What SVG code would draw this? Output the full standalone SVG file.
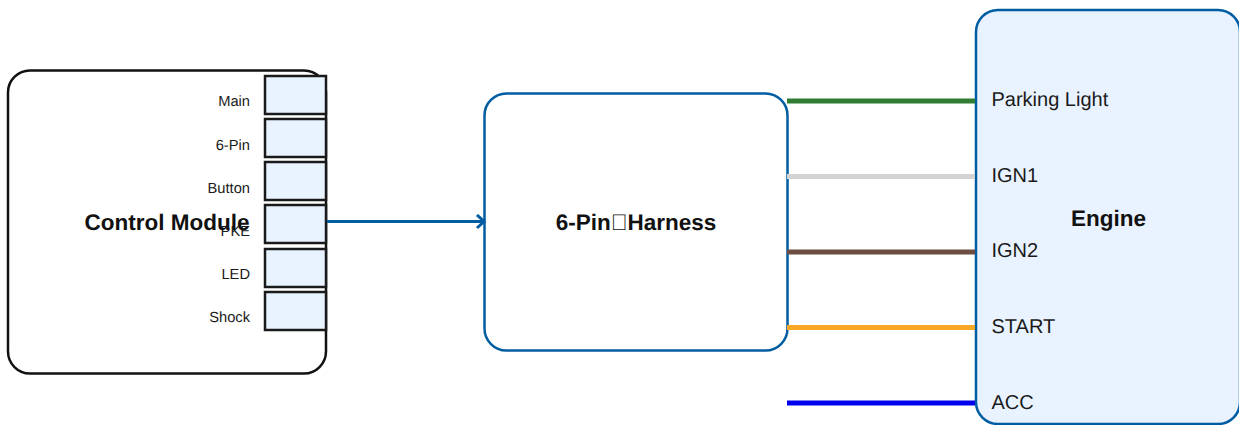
<svg xmlns="http://www.w3.org/2000/svg" width="1239" height="425" viewBox="0 0 1239 425">
<style>
text{font-family:"Liberation Sans",Arial,sans-serif;fill:#1a1a1a;text-rendering:geometricPrecision}
.box{stroke:#005da2;stroke-width:2.500}
.port{fill:#e9f3ff;stroke:#1a1a1a;stroke-width:2.500}
.pl{font-size:14.700px;text-anchor:end}
.t{font-size:22.500px;font-weight:bold;text-anchor:middle;fill:#111}
.el{font-size:20px}
.w{fill:none;stroke-width:5}
</style>
<defs>
<marker id="a" markerUnits="userSpaceOnUse" markerWidth="14" markerHeight="16" refX="12" refY="8" orient="auto"><path d="M5 1.500L12 8L5 14.500" fill="none" stroke="#005da2" stroke-width="3"/></marker>
</defs>
<g id="control-module">
<rect x="8" y="70.500" width="318" height="303" rx="22" fill="#fff" stroke="#111" stroke-width="2.500"/>
<text class="t" x="167" y="229.500">Control Module</text>
</g>
<g id="port-main"><rect class="port" x="265" y="76" width="61" height="38"/><text class="pl" x="250" y="106">Main</text></g>
<g id="port-6pin"><rect class="port" x="265" y="119" width="61" height="38"/><text class="pl" x="250" y="150">6-Pin</text></g>
<g id="port-button"><rect class="port" x="265" y="162" width="61" height="38"/><text class="pl" x="250" y="193">Button</text></g>
<g id="port-pke"><rect class="port" x="265" y="205" width="61" height="38"/><text class="pl" x="250" y="236">PKE</text></g>
<g id="port-led"><rect class="port" x="265" y="249" width="61" height="38"/><text class="pl" x="250" y="279">LED</text></g>
<g id="port-shock"><rect class="port" x="265" y="292" width="61" height="38"/><text class="pl" x="250" y="322">Shock</text></g>
<g id="harness">
<rect class="box" x="484.500" y="93.500" width="303" height="257" rx="22" fill="#fff"/>
<text class="t" x="636" y="230">6-Pin&#xE000;Harness</text>
</g>
<g id="engine">
<rect class="box" x="976" y="10" width="264" height="414" rx="22" fill="#e9f3ff"/>
<text class="t" x="1108.500" y="226">Engine</text>
<text class="el" x="991.500" y="106">Parking Light</text>
<text class="el" x="991.500" y="182">IGN1</text>
<text class="el" x="991.500" y="257">IGN2</text>
<text class="el" x="991.500" y="333">START</text>
<text class="el" x="991.500" y="409">ACC</text>
</g>
<g id="connectors">
<path d="M327 221.500H484" fill="none" stroke="#005da2" stroke-width="3" marker-end="url(#a)"/>
<path class="w" d="M787 101H975" stroke="#2e7d32"/>
<path class="w" d="M787 176.500H975" stroke="#d3d3d3"/>
<path class="w" d="M787 252H975" stroke="#6d4c41"/>
<path class="w" d="M787 327.500H975" stroke="#f9a825"/>
<path class="w" d="M787 403H975" stroke="#0000ee"/>
</g>
</svg>
